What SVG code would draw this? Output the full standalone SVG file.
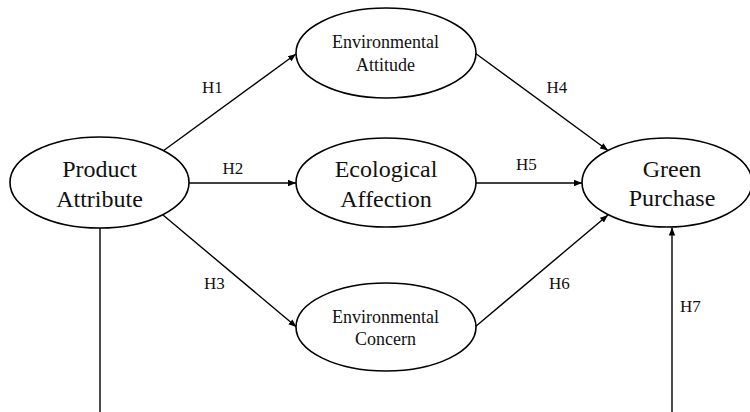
<svg xmlns="http://www.w3.org/2000/svg" width="750" height="412" viewBox="0 0 750 412">
<style>
.n{fill:#fff;stroke:#000;stroke-width:1.6}
.t{font-family:"Liberation Serif","Times New Roman",serif;fill:#111;text-anchor:middle}
.big{font-size:24px}
.sm{font-size:18px}
.lbl{font-family:"Liberation Serif","Times New Roman",serif;font-size:17px;fill:#111}
.c{stroke:#000;stroke-width:1.4;fill:none}
</style>
<defs>
<marker id="ah" markerUnits="userSpaceOnUse" markerWidth="10" markerHeight="8" refX="8" refY="4" orient="auto">
<path d="M0,0.8 L8,4 L0,7.2 Z" fill="#000"/>
</marker>
</defs>
<rect width="750" height="412" fill="#fff"/>
<g id="connectors">
<line class="c" x1="163" y1="151" x2="296" y2="54" marker-end="url(#ah)"/>
<line class="c" x1="189" y1="183" x2="296" y2="183" marker-end="url(#ah)"/>
<line class="c" x1="163" y1="215" x2="296.5" y2="327" marker-end="url(#ah)"/>
<line class="c" x1="475" y1="53" x2="608" y2="150.5" marker-end="url(#ah)"/>
<line class="c" x1="476" y1="183" x2="582" y2="183" marker-end="url(#ah)"/>
<line class="c" x1="475" y1="327" x2="608" y2="215" marker-end="url(#ah)"/>
<line class="c" x1="672" y1="412" x2="672" y2="227.5" marker-end="url(#ah)"/>
<line class="c" x1="100" y1="228" x2="100" y2="412"/>
<text class="lbl" x="202" y="93">H1</text>
<text class="lbl" x="222.5" y="174">H2</text>
<text class="lbl" x="204" y="289">H3</text>
<text class="lbl" x="546.5" y="93">H4</text>
<text class="lbl" x="516" y="170">H5</text>
<text class="lbl" x="549" y="289">H6</text>
<text class="lbl" x="680" y="312">H7</text>
</g>
<g id="product-attribute">
<ellipse class="n" cx="99.5" cy="182.5" rx="89.5" ry="45.5"/>
<text class="t big" x="99.5" y="177">Product</text>
<text class="t big" x="99.5" y="207">Attribute</text>
</g>
<g id="environmental-attitude">
<ellipse class="n" cx="386" cy="53" rx="90" ry="45"/>
<text class="t sm" x="385.5" y="48">Environmental</text>
<text class="t sm" x="385.5" y="70.5">Attitude</text>
</g>
<g id="ecological-affection">
<ellipse class="n" cx="386" cy="182.5" rx="90" ry="44.5"/>
<text class="t big" x="386" y="176.5">Ecological</text>
<text class="t big" x="386" y="206.5">Affection</text>
</g>
<g id="environmental-concern">
<ellipse class="n" cx="386" cy="327" rx="90" ry="44"/>
<text class="t sm" x="385.5" y="323">Environmental</text>
<text class="t sm" x="385.5" y="345">Concern</text>
</g>
<g id="green-purchase">
<ellipse class="n" cx="667" cy="182.5" rx="85" ry="44.5"/>
<text class="t big" x="672" y="177">Green</text>
<text class="t big" x="672" y="206">Purchase</text>
</g>
</svg>
